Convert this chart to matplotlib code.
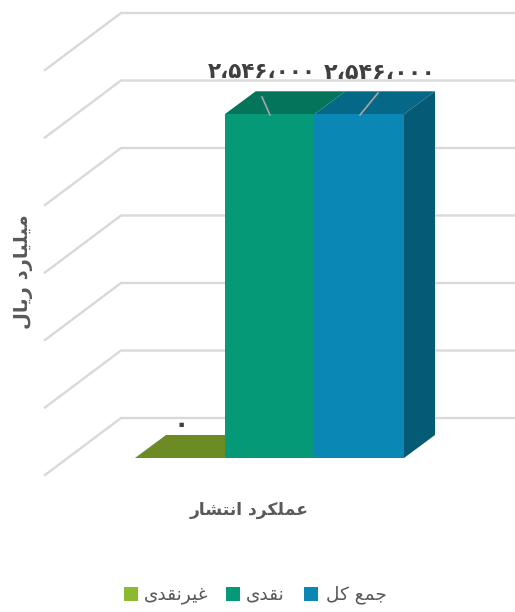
import matplotlib
matplotlib.use("Agg")
import matplotlib.pyplot as plt
from matplotlib.patches import Polygon, Rectangle

# =========================
# DATA
# =========================
series_names = ["غیرنقدی", "نقدی", "جمع کل"]
series_values = [0, 2546000, 2546000]
value_labels = ["۰", "۲،۵۴۶،۰۰۰", "۲،۵۴۶،۰۰۰"]
grid_values = [0, 500000, 1000000, 1500000, 2000000, 2500000, 3000000]
category = "عملکرد انتشار"
y_title = "میلیارد ریال"

front_colors = ["#8DB92E", "#059977", "#0A87B4"]
top_colors = ["#6C8B25", "#04755A", "#066887"]
side_color = "#055A75"
text_color = "#595959"
label_color = "#404040"
grid_color = "#D9D9D9"

# =========================
# ARABIC SHAPING (matplotlib draws glyphs left to right, no joining)
# =========================
FORMS = {
    "ا": "\uFE8D\uFE8E", "د": "\uFEA9\uFEAA", "ر": "\uFEAD\uFEAE",
    "ب": "\uFE8F\uFE90\uFE91\uFE92", "ت": "\uFE95\uFE96\uFE97\uFE98",
    "ج": "\uFE9D\uFE9E\uFE9F\uFEA0", "ش": "\uFEB5\uFEB6\uFEB7\uFEB8",
    "ع": "\uFEC9\uFECA\uFECB\uFECC", "غ": "\uFECD\uFECE\uFECF\uFED0",
    "ق": "\uFED5\uFED6\uFED7\uFED8", "ک": "\uFB8E\uFB8F\uFB90\uFB91",
    "ل": "\uFEDD\uFEDE\uFEDF\uFEE0", "م": "\uFEE1\uFEE2\uFEE3\uFEE4",
    "ن": "\uFEE5\uFEE6\uFEE7\uFEE8", "ی": "\uFBFC\uFBFD\uFBFE\uFBFF",
}


def shape(word):
    word = word.replace("لا", "\uFEFB")
    out = []
    for i, ch in enumerate(word):
        prev = word[i - 1] if i else ""
        nxt = word[i + 1] if i + 1 < len(word) else ""
        joins_prev = prev in FORMS and len(FORMS[prev]) == 4
        joins_next = nxt in FORMS or nxt == "\uFEFB"
        if ch == "\uFEFB":
            out.append("\uFEFC" if joins_prev else ch)
        elif ch not in FORMS:
            out.append(ch)
        else:
            forms = FORMS[ch]
            if len(forms) == 2:
                out.append(forms[1] if joins_prev else forms[0])
            elif joins_prev and joins_next:
                out.append(forms[3])
            elif joins_prev:
                out.append(forms[1])
            elif joins_next:
                out.append(forms[2])
            else:
                out.append(forms[0])
    return "".join(reversed(out))


# =========================
# FIGURE: axes = front plane of the bars
# =========================
W, H = 515, 612
plt.rcParams["font.family"] = "DejaVu Sans"
fig = plt.figure(figsize=(W / 100, H / 100), dpi=100, facecolor="white")

LEFT, RIGHT, BASE, TOP = 135, 404, 458, 53
ax = fig.add_axes([LEFT / W, 1 - BASE / H, (RIGHT - LEFT) / W, (BASE - TOP) / H])
ax.set_xlim(0, 3)
ax.set_ylim(0, 3000000)
ax.axis("off")

ux = 3 / (RIGHT - LEFT)       # bar units per pixel
uy = 3000000 / (BASE - TOP)   # value units per pixel
x_px = lambda px: (px - LEFT) * ux
y_px = lambda py: (BASE - py) * uy

# =========================
# GRID (back wall + side wall)
# =========================
for v in grid_values:
    y_back = v + 40 * uy
    ax.plot([x_px(515), x_px(121), x_px(45)],
            [y_back, y_back, y_back - 57 * uy],
            color=grid_color, lw=1.7, clip_on=False, zorder=1,
            solid_joinstyle="miter")

# =========================
# BARS
# =========================
dx, dy = 31 * ux, 23 * uy
for i, (val, front, top) in enumerate(zip(series_values, front_colors, top_colors)):
    ax.add_patch(Polygon([(i, val), (i + 1, val), (i + 1 + dx, val + dy), (i + dx, val + dy)],
                         facecolor=top, edgecolor="none", clip_on=False, zorder=2))
    ax.bar(i + 0.5, val, width=1, color=front, zorder=3, clip_on=False)

last = series_values[-1]
ax.add_patch(Polygon([(3, 0), (3 + dx, dy), (3 + dx, last + dy), (3, last)],
                     facecolor=side_color, edgecolor="none", clip_on=False, zorder=2))

# =========================
# LABELS + LEADER LINES
# =========================
ax.plot([x_px(270), x_px(262)], [y_px(115), y_px(97)], color="#A6A6A6", lw=1.2, zorder=4, clip_on=False)
ax.plot([x_px(360), x_px(378)], [y_px(115), y_px(93)], color="#A6A6A6", lw=1.2, zorder=4, clip_on=False)

label_pos = [(262, 72), (380, 73)]
label_sizes = [15.5, 16]
ax.text(x_px(181), y_px(425), value_labels[0], ha="center", va="center", fontsize=18,
        fontweight="bold", color=label_color, clip_on=False, zorder=5)
for (px, py), lab, fs in zip(label_pos, value_labels[1:], label_sizes):
    ax.text(x_px(px), y_px(py), lab, ha="center", va="center", fontsize=fs,
            fontweight="bold", color=label_color, clip_on=False, zorder=5)

ax.text(x_px(249), y_px(510), shape(category), ha="center", va="center",
        fontsize=12.3, fontweight="bold", color=text_color, clip_on=False)
ax.text(x_px(23), y_px(272), shape(y_title), ha="center", va="center", rotation=90,
        fontsize=14, fontweight="bold", color=text_color, clip_on=False)

# =========================
# LEGEND (built by hand to keep the RTL order of the original)
# =========================
legend_boxes = [124, 226, 304]
legend_text = [176, 265.5, 356]
for name, color, bx, tx in zip(series_names, front_colors, legend_boxes, legend_text):
    fig.add_artist(Rectangle((bx / W, 1 - 601 / H), 14 / W, 14 / H, transform=fig.transFigure,
                             facecolor=color, edgecolor="none"))
    fig.text(tx / W, 1 - 595 / H, shape(name), ha="center", va="center",
             fontsize=13.3, color=text_color)

fig.savefig("out.png", dpi=100)
